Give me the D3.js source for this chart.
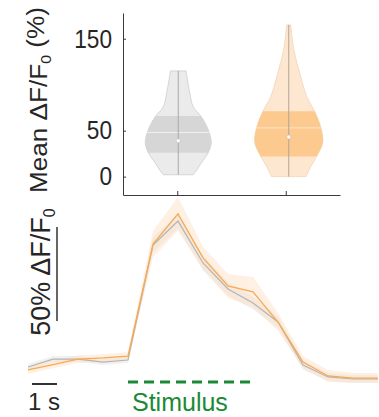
<!DOCTYPE html>
<html><head><meta charset="utf-8">
<script src="https://cdn.jsdelivr.net/npm/d3@7"></script>
<style>body{margin:0;background:#fff}svg{display:block}text{font-family:"Liberation Sans",Arial,sans-serif}</style>
</head><body>
<script>
// ---------- data ----------
const categories = ["Group 1", "Group 2"];
const violinColors = ["gray", "orange"];
// violin outlines: value levels and relative density (half-width)
const violinValuesA = [2, 8, 15, 26, 37, 51, 65, 76, 91, 115];
const violinDensityA = [0.44, 0.56, 0.68, 0.88, 0.97, 0.88, 0.68, 0.44, 0.34, 0.23];
const violinValuesB = [0, 11, 22, 37, 54, 71, 87, 109, 138, 165];
const violinDensityB = [0.51, 0.65, 0.82, 1.0, 0.94, 0.76, 0.53, 0.35, 0.15, 0.06];
const q1Values = [26, 22];
const q3Values = [66, 71];
const meanValues = [48, 53];
const medianValues = [39, 43];
const minValues = [2, 0];
const maxValues = [115, 165];
const yTicks = [0, 50, 150];

// time series (1 frame / s)
const time = [0,1,2,3,4,5,6,7,8,9,10,11,12,13,14];
const orangeMean = [-5.3,-2.4,0.5,1.1,2.1,61.7,77.7,54.3,39.4,36.2,20.2,-1.1,-8.5,-9.6,-9.6];
const orangeSem  = [2,2,2,2,2,7,9,6,6.4,8,4.8,3.2,3.2,2.7,2.7];
const grayMean   = [-3.7,0.5,0.5,-1.1,0,61.2,73.9,51.6,37.8,30.3,20.2,-2.7,-9.0,-10.1,-10.1];
const graySem    = [1.6,1.6,1.6,1.6,1.6,4,4,4,3.5,3.5,3,2.5,2,2,2];
const stimulusStart = 4, stimulusEnd = 9;

// ---------- drawing ----------
const W = 379, H = 417;
const svg = d3.select("body").append("svg").attr("width", W).attr("height", H);
const axisColor = "#3a3a3a", textColor = "#262626";

// top panel
const xTop = d3.scalePoint().domain(categories).range([123, 340]).padding(0.5);
const yTop = d3.scaleLinear().domain([-20, 178]).range([195, 13]);
const wScale = d3.scaleLinear().domain([0, 1]).range([0, 34]);

const pal = {
  gray:   {outer: "#ebebeb", edge: "#cdcdcd", iqr: "#d6d6d6", mid: "#a9a9a9", mean: "#f0f0f0"},
  orange: {outer: "#fde7d1", edge: "#f4d3b2", iqr: "#fcc98e", mid: "#b3a595", mean: "#fde6cf"}
};
const violins = [
  {vals: violinValuesA, dens: violinDensityA},
  {vals: violinValuesB, dens: violinDensityB}
];
const defs = svg.append("defs");
categories.forEach((c, i) => {
  const cx = xTop(c) + (i === 1 ? 3 : 1);
  const p = pal[violinColors[i]];
  const pts = violins[i].vals.map((v, k) => ({v, d: violins[i].dens[k]}));
  const area = d3.area()
    .y(d => yTop(d.v))
    .x0(d => cx - wScale(d.d))
    .x1(d => cx + wScale(d.d))
    .curve(d3.curveCatmullRom);
  const path = area(pts);
  svg.append("path").attr("d", path).attr("fill", p.outer).attr("stroke", p.edge).attr("stroke-width", 0.8);
  const cid = "clip" + i, vid = "vclip" + i;
  defs.append("clipPath").attr("id", cid).append("rect")
    .attr("x", cx - 50).attr("width", 100)
    .attr("y", yTop(q3Values[i])).attr("height", yTop(q1Values[i]) - yTop(q3Values[i]));
  defs.append("clipPath").attr("id", vid).append("path").attr("d", path);
  svg.append("path").attr("d", path).attr("fill", p.iqr).attr("clip-path", `url(#${cid})`);
  // mean line across violin
  svg.append("line").attr("clip-path", `url(#${vid})`)
    .attr("x1", cx - 40).attr("x2", cx + 40)
    .attr("y1", yTop(meanValues[i])).attr("y2", yTop(meanValues[i]))
    .attr("stroke", p.mean).attr("stroke-width", 1);
  // vertical whisker line
  svg.append("line").attr("x1", cx).attr("x2", cx)
    .attr("y1", yTop(minValues[i])).attr("y2", yTop(maxValues[i]))
    .attr("stroke", p.mid).attr("stroke-width", 1);
  svg.append("circle").attr("cx", cx).attr("cy", yTop(medianValues[i])).attr("r", 2)
    .attr("fill", "#fff").attr("stroke", "#b8b8b8").attr("stroke-width", 0.5);
});

// axes (inward ticks)
const gy = svg.append("g").attr("transform", "translate(123,0)")
  .call(d3.axisLeft(yTop).tickValues(yTicks).tickSizeInner(-3).tickSizeOuter(0).tickPadding(11));
gy.select(".domain").attr("stroke", axisColor);
gy.selectAll(".tick line").attr("stroke", axisColor);
gy.selectAll("text").attr("font-size", 26).attr("fill", textColor)
  .attr("font-family", "Liberation Sans, Arial, sans-serif")
  .each(function(){ const n = this.getComputedTextLength(); d3.select(this).attr("textLength", n*0.87).attr("lengthAdjust","spacingAndGlyphs"); });
const gx = svg.append("g").attr("transform", "translate(0,195)")
  .call(d3.axisBottom(xTop).tickSizeInner(-4).tickSizeOuter(0).tickFormat(""));
gx.select(".domain").attr("stroke", axisColor);
gx.selectAll(".tick line").attr("stroke", axisColor);

// y title
const yt = svg.append("text").attr("transform", "translate(47,100) rotate(-90)")
  .attr("text-anchor", "middle").attr("font-size", 23).attr("fill", textColor);
yt.append("tspan").text("Mean ΔF/F");
yt.append("tspan").attr("font-size", 14).attr("dy", "0.3em").text("0");
yt.append("tspan").attr("dy", "-0.3em").text(" (%)");
yt.attr("textLength", 186).attr("lengthAdjust", "spacingAndGlyphs");

// bottom panel
const xB = d3.scaleLinear().domain([0, 14]).range([28, 378]);
const yB = d3.scaleLinear().domain([0, 50]).range([360, 266]);
const band = (m, s) => d3.area().x((d, k) => xB(time[k])).y0((d, k) => yB(m[k] - s[k])).y1((d, k) => yB(m[k] + s[k]))(m);
const line = m => d3.line().x((d, k) => xB(time[k])).y(d => yB(d))(m);
svg.append("path").attr("d", band(grayMean, graySem)).attr("fill", "#dcdcdc").attr("opacity", 0.4);
svg.append("path").attr("d", band(orangeMean, orangeSem)).attr("fill", "#fcdcbd").attr("opacity", 0.42);
svg.append("path").attr("d", line(grayMean)).attr("fill", "none").attr("stroke", "#b8b4b0").attr("stroke-width", 1.2);
svg.append("path").attr("d", line(orangeMean)).attr("fill", "none").attr("stroke", "#f8aa52").attr("stroke-width", 1.3);

// scale bars
const barBottom = 321;
svg.append("line").attr("x1", 57).attr("x2", 57).attr("y1", barBottom).attr("y2", barBottom - (yB(0) - yB(50)))
  .attr("stroke", "#333").attr("stroke-width", 1.5);
const bt = svg.append("text").attr("transform", "translate(50,272) rotate(-90)")
  .attr("text-anchor", "middle").attr("font-size", 27).attr("fill", textColor);
bt.append("tspan").text("50% ΔF/F");
bt.append("tspan").attr("font-size", 16).attr("dy", "0.3em").text("0");

svg.append("line").attr("x1", xB(0) + 4).attr("x2", xB(1) + 4).attr("y1", 384).attr("y2", 384)
  .attr("stroke", "#333").attr("stroke-width", 2);
svg.append("text").attr("x", 28).attr("y", 410).attr("font-size", 24).attr("fill", textColor).text("1 s");

// stimulus
svg.append("line").attr("x1", xB(stimulusStart)).attr("x2", xB(stimulusEnd)).attr("y1", 382).attr("y2", 382)
  .attr("stroke", "#1b8a35").attr("stroke-width", 3).attr("stroke-dasharray", "10,6");
svg.append("text").attr("x", xB(stimulusStart) + 4).attr("y", 411).attr("font-size", 25).attr("fill", "#1b8a35").text("Stimulus");
</script>
</body></html>
